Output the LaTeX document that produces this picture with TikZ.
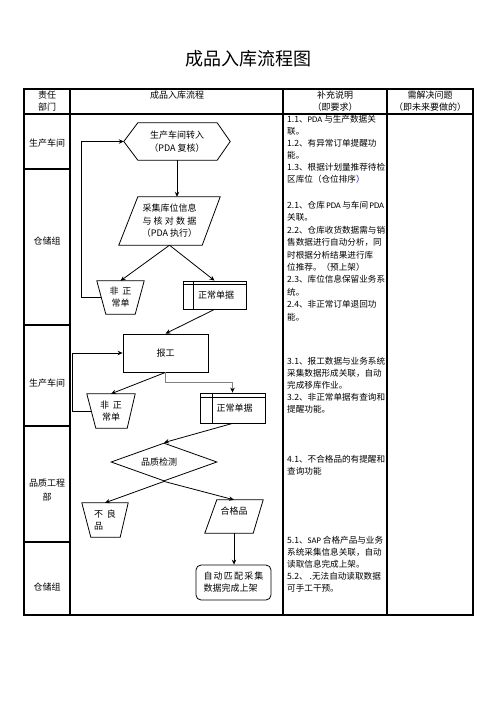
\documentclass[tikz,border=0pt]{standalone}
\usepackage{fontspec}
\setmainfont{Noto Sans CJK SC}
\newfontfamily\latfont{Carlito}
\usetikzlibrary{arrows.meta,calc,shapes.geometric}
\newcommand\flowfont{\fontsize{9}{12}\selectfont}
\newcommand\lpda{{\latfont PDA}}
\begin{document}
\begin{tikzpicture}[x=1pt,y=-1pt,
  frame/.style={line width=1.1pt},
  shp/.style={draw, line width=0.8pt},
  box/.style={inner sep=0pt, align=center, font=\flowfont},
  conn/.style={line width=0.8pt, -{Stealth[length=5pt,width=4.5pt]}},
  hd/.style={inner sep=0pt, align=center, font=\fontsize{9}{12}\selectfont},
  note/.style={inner sep=0pt, align=left, anchor=north west, font=\fontsize{8.6}{12}\selectfont}]
\useasboundingbox (0,0) rectangle (496,702);
% title
\node[inner sep=0pt, font=\fontsize{18}{20}\selectfont] (title) at (248,59) {成品入库流程图};
% table
\draw[frame] (24,89) rectangle (473,615);
\draw[frame] (24,114) -- (473,114);
\draw[frame] (70,89) -- (70,615);
\draw[frame] (283,89) -- (283,615);
\draw[frame] (387,89) -- (387,615);
\foreach \yy in {169,325,426,542} \draw[frame] (24,\yy) -- (70,\yy);
% header
\node[hd] (h1) at (47,101) {责任\\部门};
\node[hd] (h2) at (177,95) {成品入库流程};
\node[hd] (h3) at (335,101) {补充说明\\（即要求）};
\node[hd] (h4) at (430,101) {需解决问题\\（即未来要做的）};
% departments
\node[hd] (d1) at (47,143) {生产车间};
\node[hd] (d2) at (47,241) {仓储组};
\node[hd] (d3) at (47,383) {生产车间};
\node[hd, font=\fontsize{9}{14}\selectfont] (d4) at (47,490) {品质工程\\部};
\node[hd] (d5) at (47,587) {仓储组};
% notes
\node[note] (n1) at (287,115.5) {1.1、\lpda\ 与生产数据关\\联。\\1.2、有异常订单提醒功\\能。\\1.3、根据计划量推荐待检\\区库位（仓位排序\textcolor{blue!80!black}{）}};
\node[note, font=\fontsize{8.6}{12.4}\selectfont] (n2) at (287,201) {2.1、仓库\,\lpda\,与车间\,\lpda\\关联。\\2.2、仓库收货数据需与销\\售数据进行自动分析，同\\时根据分析结果进行库\\位推荐。（预上架）\\2.3、库位信息保留业务系\\统。\\2.4、非正常订单退回功\\能。};
\node[note] (n3) at (287,357) {3.1、报工数据与业务系统\\采集数据形成关联，自动\\完成移库作业。\\3.2、非正常单据有查询和\\提醒功能。};
\node[note] (n4) at (287,455) {4.1、不合格品的有提醒和\\查询功能};
\node[note] (n5) at (287,536) {5.1、{\latfont SAP} 合格产品与业务\\系统采集信息关联，自动\\读取信息完成上架。\\5.2、 .无法自动读取数据\\可手工干预。};
% flow shapes
\node[box, minimum width=106pt, minimum height=37pt, font=\fontsize{9}{13.5}\selectfont] (hex) at (177,141.5) {生产车间转入\\（PDA 复核）};
\draw[shp] (hex.west) -- ($(hex.north west)+(14,0)$) -- ($(hex.north east)+(-13,0)$) -- (hex.east) -- ($(hex.south east)+(-13,0)$) -- ($(hex.south west)+(14,0)$) -- cycle;
\node[box, minimum width=101pt, minimum height=48pt, font=\fontsize{9}{12.5}\selectfont] (par) at (169.5,221) {采集库位信息\\\makebox[54pt]{与\hfill 核\hfill 对\hfill 数\hfill 据}\\（PDA 执行）};
\draw[shp] (par.south west) -- ($(par.north west)+(19,0)$) -- (par.north east) -- ($(par.south east)+(-18,0)$) -- cycle;
\node[box, minimum width=47pt, minimum height=33pt] (ab1) at (120.5,297.5) {非\hspace{4pt}正\\常单};
\draw[shp] (ab1.north west) -- (ab1.north east) -- ($(ab1.south east)+(-9,0)$) -- ($(ab1.south west)+(9,0)$) -- cycle;
\node[box, shp, minimum width=63pt, minimum height=28pt] (ok1) at (214.5,295) {\hspace*{3pt}正常单据};
\draw[shp] ($(ok1.north west)+(11,0)$) -- ($(ok1.south west)+(11,0)$);
\draw[shp] ($(ok1.north west)+(0,4)$) -- ($(ok1.north east)+(0,4)$);
\node[box, shp, minimum width=85pt, minimum height=38pt] (bg) at (165.5,353) {报工};
\node[box, minimum width=48pt, minimum height=34pt] (ab2) at (111,411) {非\hspace{4pt}正\\常单};
\draw[shp] (ab2.north west) -- (ab2.north east) -- ($(ab2.south east)+(-8,0)$) -- ($(ab2.south west)+(9,0)$) -- cycle;
\node[box, shp, minimum width=65pt, minimum height=30pt] (ok2) at (232.5,408) {\hspace*{4pt}正常单据};
\draw[shp] ($(ok2.north west)+(13,0)$) -- ($(ok2.south west)+(13,0)$);
\draw[shp] ($(ok2.north west)+(0,5)$) -- ($(ok2.north east)+(0,5)$);
\node[box, shp, diamond, aspect=2.8, minimum width=106pt, minimum height=38pt] (dia) at (164,462) {\hspace*{-10pt}品质检测};
\node[box, align=left, minimum width=46pt, minimum height=34pt] (bad) at (105,520) {不\hspace{4pt}良\\品};
\draw[shp] (bad.north west) -- (bad.north east) -- ($(bad.south east)+(-8,0)$) -- ($(bad.south west)+(9,0)$) -- cycle;
\node[box, minimum width=58pt, minimum height=33pt] (good) at (234,516.5) {合格品\\\mbox{}};
\draw[shp] (good.south west) -- ($(good.north west)+(12,0)$) -- (good.north east) -- ($(good.south east)+(-10,0)$) -- cycle;
\node[box, shp, align=left, rounded corners=5pt, minimum width=75pt, minimum height=35pt] (fin) at (233.5,582.5) {\makebox[60pt]{自\hfill 动\hfill 匹\hfill 配\hfill 采\hfill 集}\\数据完成上架};
% connectors
\draw[conn] (hex.south) -- (hex.south |- par.north);
\draw[conn] (par.south) -- (ab1.north);
\draw[conn] (par.south) -- (ok1.north);
\draw[conn] ($(ab1.west)+(4.5,0)$) -- ++(-19.5,0) |- (hex.west);
\draw[conn] (ok1.south) -- (bg.north);
\draw[conn] (bg.south) -- (ab2.north);
\draw[line width=1.3pt, black!50, -{Stealth[length=5pt,width=4.5pt,color=black]}] (bg.south) -- ++(0,10) -| (ok2.north);
\draw[conn] ($(ab2.west)+(4.5,0)$) -- ++(-18.5,0) |- (bg.west);
\draw[conn] (ok2.south) -- (dia.north);
\draw[conn] (dia.south) -- (bad.north);
\draw[conn] (dia.south) -- (good.north);
\draw[conn] (good.south) -- (good.south |- fin.north);
\end{tikzpicture}
\end{document}
